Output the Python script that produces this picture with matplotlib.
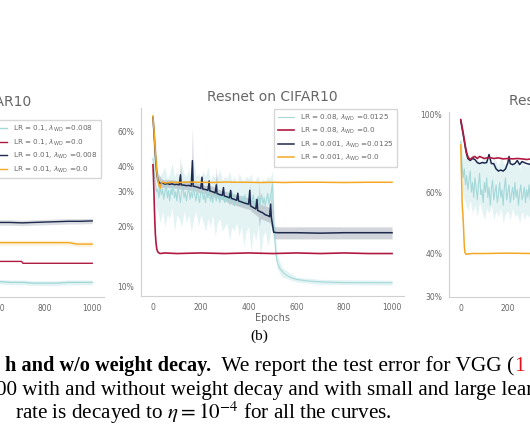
import numpy as np
import matplotlib.pyplot as plt
from matplotlib.ticker import FixedLocator, NullLocator

# ---- data (test error in %) ----
# left panel: VGG on CIFAR10 (only the tail is visible)
l_ep = [0, 20, 50, 100, 200, 300, 400, 500, 600, 650, 700, 706, 750, 800, 850, 900, 936, 950, 1000]
l_cyan = [40, 18, 14, 12.5, 11.5, 11.2, 11.0, 10.9, 10.8, 10.7, 10.7, 10.7, 10.6, 10.6, 10.6, 10.7, 10.7, 10.7, 10.7]
l_red = [38, 17, 15, 14.5, 14.2, 14.0, 13.9, 13.8, 13.7, 13.7, 13.7, 13.4, 13.4, 13.4, 13.4, 13.4, 13.4, 13.4, 13.4]
l_navy = [60, 30, 25, 23.5, 23.0, 22.5, 22.2, 21.9, 21.7, 21.7, 21.6, 21.6, 21.7, 21.8, 21.9, 22.0, 22.0, 22.0, 22.1]
l_orange = [55, 24, 20, 18.5, 17.8, 17.5, 17.3, 17.2, 17.1, 17.1, 17.1, 17.1, 17.1, 17.1, 17.1, 17.1, 16.8, 16.8, 16.8]
l_labels = [r"LR = 0.1, $\lambda_{\mathrm{WD}}$ =0.008", r"LR = 0.1, $\lambda_{\mathrm{WD}}$ =0.0",
            r"LR = 0.01, $\lambda_{\mathrm{WD}}$ =0.008", r"LR = 0.01, $\lambda_{\mathrm{WD}}$ =0.0"]

# middle panel: Resnet on CIFAR10
m_cyan_ep = list(range(0, 505, 5)) + [505, 510, 515, 520, 530, 545, 560, 580, 600, 650, 700, 800, 900, 1000]
m_cyan = [44, 38, 33, 30, 31, 28, 32, 29, 31, 27.5, 30, 33, 28, 30.5, 27, 31, 29, 33.5, 28, 30,
          27, 31.5, 29, 26.5, 30, 32, 28, 30, 27, 29.5, 31, 27.5, 30, 28, 32, 29, 27, 30.5, 28.5, 26.5,
          29.5, 31, 27.5, 29, 26.5, 30, 28, 31, 27, 29, 26.5, 30, 28.5, 27, 30.5, 28, 26.5, 29.5, 27.5, 30,
          26.5, 28.5, 27, 29.5, 26, 28, 30, 27, 25.5, 28.5, 27, 29, 26, 27.5, 25.5, 28.5, 26.5, 29, 25.5, 27.5,
          26, 28.5, 25, 27, 29, 25.5, 27.5, 26, 28.5, 25, 27, 29, 26, 28, 25.5, 27.5, 29.5, 26, 28, 30, 33,
          22, 17, 14.5, 13.3, 12.4, 11.8, 11.4, 11.1, 10.9, 10.7, 10.6, 10.5, 10.5, 10.5]
m_cyan_band_ep = [0, 10, 20, 30, 40, 50, 60, 70, 80, 90, 100, 110, 120, 130, 140, 150, 160, 170, 180, 190,
                  200, 210, 220, 230, 240, 250, 260, 270, 280, 290, 300, 310, 320, 330, 340, 350, 360, 370,
                  380, 390, 400, 410, 420, 430, 440, 450, 460, 470, 480, 490, 500, 505, 510, 520, 540, 600, 700, 1000]
m_cyan_lo = [38, 26, 24, 21, 24, 20, 23, 22, 25, 19, 23, 22, 20, 24, 21, 23, 19, 22, 24, 20,
             23, 21, 19, 22, 20, 23, 18, 21, 22, 19, 20, 21, 17, 20, 19, 21, 18, 20, 16, 19,
             20, 15, 19, 17, 20, 14, 18, 19, 16, 18, 24, 18, 14.5, 12.3, 11.2, 10.6, 10.3, 10.2]
m_cyan_hi = [52, 40, 38, 36, 38, 40, 35, 37, 42, 36, 38, 35, 41, 37, 36, 39, 35, 43, 36, 37,
             35, 38, 36, 40, 34, 37, 35, 36, 39, 34, 36, 35, 38, 34, 36, 33, 37, 35, 34, 36,
             35, 37, 33, 35, 36, 33, 35, 34, 36, 35, 38, 27, 20, 14.5, 12.5, 11.2, 10.9, 10.8]
m_red_ep = [0, 2, 4, 6, 8, 10, 13, 16, 20, 25, 30, 50, 100, 200, 300, 400, 500, 600, 700, 800, 900, 1000]
m_red = [41, 36, 30, 25, 21, 18.5, 16.5, 15.5, 15.0, 14.8, 14.7, 14.8, 14.7, 14.8, 14.7, 14.8, 14.7, 14.8,
         14.7, 14.8, 14.7, 14.7]
m_navy_ep = [0, 4, 8, 12, 16, 20, 25, 30, 40, 50, 60, 70, 80, 90, 100, 110, 115, 118, 130, 140, 150, 160,
             165, 168, 180, 190, 200, 205, 208, 220, 230, 235, 238, 250, 260, 265, 268, 280, 290, 295, 298,
             310, 320, 325, 328, 340, 350, 355, 358, 370, 380, 390, 400, 405, 408, 420, 430, 435, 438, 450,
             460, 470, 480, 488, 492, 495, 500, 505, 520, 600, 700, 800, 900, 1000]
m_navy = [71, 60, 50, 42, 37, 34.5, 33.5, 33.0, 33.2, 32.8, 33.0, 32.7, 32.9, 32.6, 32.7, 32.5, 36.5, 32.5,
          32.4, 32.2, 32.3, 32.0, 43.0, 32.0, 31.8, 31.5, 31.2, 35.5, 31.0, 30.8, 30.5, 34.0, 30.3, 30.0,
          29.6, 32.5, 29.4, 29.0, 28.8, 31.5, 28.6, 28.3, 28.0, 30.5, 27.8, 27.5, 27.2, 29.5, 27.0, 26.7,
          26.4, 26.2, 26.0, 30.5, 25.5, 25.0, 24.6, 27.5, 24.2, 23.8, 23.5, 23.0, 22.8, 22.5, 26.0, 22.4,
          20.5, 18.8, 18.7, 18.7, 18.6, 18.7, 18.7, 18.7]
m_navy_band_ep = [0, 20, 40, 80, 110, 115, 120, 160, 165, 170, 200, 205, 210, 250, 260, 265, 270, 330, 400,
                  405, 410, 440, 445, 450, 490, 495, 500, 505, 520, 1000]
m_navy_lo = [65, 32, 31.5, 31.5, 31, 31, 31, 30.5, 30.5, 30.5, 29.5, 29.5, 29.5, 28.5, 28, 28, 28, 26,
             24.5, 24.5, 24, 22.5, 20, 22, 21, 20, 19, 17.5, 17.4, 17.4]
m_navy_hi = [77, 37, 34.5, 34.5, 34, 45, 34, 34, 63, 33.5, 33, 37, 32.5, 32, 31.5, 40, 31, 29.5, 28,
             33, 27.5, 26.5, 33, 26, 25, 30, 24, 20.2, 20.0, 20.0]
m_orange_ep = [0, 4, 8, 12, 16, 20, 25, 30, 35, 40, 50, 75, 100, 150, 200, 250, 300, 350, 400, 450, 500,
               550, 600, 700, 800, 900, 1000]
m_orange = [72, 62, 52, 44, 38, 34.5, 32.5, 31.2, 33.0, 33.6, 33.2, 33.5, 33.4, 33.6, 33.5, 33.4, 33.6,
            33.5, 33.5, 33.4, 33.5, 33.4, 33.5, 33.5, 33.4, 33.5, 33.5]
m_labels = [r"LR = 0.08, $\lambda_{\mathrm{WD}}$ =0.0125", r"LR = 0.08, $\lambda_{\mathrm{WD}}$ =0.0",
            r"LR = 0.001, $\lambda_{\mathrm{WD}}$ =0.0125", r"LR = 0.001, $\lambda_{\mathrm{WD}}$ =0.0"]

# right panel: Resnet on CIFAR100 (only the start is visible)
r_cyan_ep = list(range(0, 305, 5)) + [400, 500, 600, 800, 1000]
r_cyan = [84, 72, 66, 70, 63, 67, 61, 65, 69, 60, 64, 58, 66, 62, 57, 63, 68, 59, 61, 56,
          64, 60, 66, 58, 62, 55, 61, 65, 57, 60, 63, 56, 59, 64, 58, 61, 55, 62, 66, 57,
          60, 63, 56, 59, 62, 57, 64, 58, 61, 55, 60, 63, 57, 59, 62, 56, 61, 58, 63, 57, 59,
          60, 59, 58, 57, 56]
r_cyan_band_ep = [0, 10, 20, 30, 40, 50, 60, 70, 80, 90, 100, 110, 120, 130, 140, 150, 160, 170, 180, 190,
                  200, 210, 220, 230, 240, 250, 260, 270, 280, 290, 300, 1000]
r_cyan_lo = [78, 58, 56, 53, 57, 52, 55, 51, 56, 53, 50, 54, 52, 55, 50, 53, 51, 54, 49, 52,
             53, 50, 54, 51, 52, 49, 53, 50, 52, 51, 50, 50]
r_cyan_hi = [88, 76, 75, 77, 74, 78, 73, 76, 72, 75, 77, 73, 76, 72, 75, 74, 71, 76, 73, 72,
             75, 71, 74, 72, 73, 70, 74, 72, 71, 73, 70, 68]
r_red_ep = [0, 5, 10, 15, 20, 25, 30, 35, 40, 50, 60, 70, 80, 90, 100, 120, 140, 160, 180, 200, 220,
            240, 260, 280, 300, 400, 500, 600, 800, 1000]
r_red = [97, 93, 89, 85, 81, 78, 76, 75, 74.5, 75.5, 76, 75, 76, 75.5, 75, 75.5, 75, 75.3, 74.8, 75,
         74.8, 75, 74.8, 74.5, 74.8, 74.5, 74.5, 74.4, 74.3, 74.3]
r_navy_ep = [0, 5, 10, 15, 20, 25, 30, 40, 50, 60, 70, 80, 90, 100, 110, 120, 130, 140, 150, 160, 170,
             180, 190, 200, 205, 210, 220, 230, 240, 250, 260, 280, 300, 400, 500, 600, 800, 1000]
r_navy = [96, 92, 88, 84, 80, 77, 75, 74, 75, 74.5, 73, 72.5, 73, 72.8, 73, 77, 72.5, 72.5, 70, 69,
          69.5, 69, 70, 73, 76, 72.5, 72, 72.5, 74, 72, 73.5, 72.5, 72, 71.5, 71, 71, 70.5, 70.5]
r_orange_ep = [0, 3, 6, 9, 12, 15, 18, 22, 30, 50, 100, 200, 300, 500, 700, 1000]
r_orange = [82, 68, 55, 52, 47, 42, 40.2, 39.8, 39.9, 40, 40, 40.1, 40, 40, 40, 40]

C_CYAN = '#a5d8d9'
C_RED = '#b01a40'
C_NAVY = '#1d2a4e'
C_ORANGE = '#f4a824'
GREY = '#666666'

fig = plt.figure(figsize=(5.3, 4.43), dpi=100)
W, H = 530, 443


def px_axes(left, top, width, height):
    return fig.add_axes([left / W, (H - top - height) / H, width / W, height / H])


def style(ax, ylim, yticks, xlabel=None):
    ax.set_yscale('log')
    ax.set_xlim(-50, 1050)
    ax.set_ylim(*ylim)
    ax.yaxis.set_major_locator(FixedLocator(yticks))
    ax.yaxis.set_minor_locator(NullLocator())
    ax.set_yticklabels([f"{t}%" for t in yticks])
    ax.set_xticks([0, 200, 400, 600, 800, 1000])
    ax.tick_params(length=0, labelsize=5.5, labelcolor=GREY, pad=5)
    for s in ['top', 'right']:
        ax.spines[s].set_visible(False)
    for s in ['left', 'bottom']:
        ax.spines[s].set_color('#d0d0d0')
        ax.spines[s].set_linewidth(0.8)
    if xlabel:
        ax.set_xlabel(xlabel, fontsize=7, color=GREY, labelpad=1)


def legend(ax, handles, labels, anchor):
    leg = ax.legend(handles, labels, loc='upper right', bbox_to_anchor=anchor, fontsize=5.2,
                    frameon=True, fancybox=False, edgecolor='#cccccc', labelspacing=0.45,
                    handlelength=2.2, borderpad=0.5, borderaxespad=0)
    for t in leg.get_texts():
        t.set_color(GREY)


# left panel
ax_l = px_axes(-155, 113, 259, 184)
ax_l.fill_between(l_ep, np.array(l_navy) - 0.7, np.array(l_navy) + 0.7, color='#b8bcc6', alpha=0.5, lw=0)
ax_l.fill_between(l_ep, np.array(l_orange) - 0.5, np.array(l_orange) + 0.5, color=C_ORANGE, alpha=0.15, lw=0)
ax_l.fill_between(l_ep, np.array(l_cyan) - 0.3, np.array(l_cyan) + 0.3, color=C_CYAN, alpha=0.3, lw=0)
h1, = ax_l.plot(l_ep, l_cyan, color=C_CYAN, lw=1)
h2, = ax_l.plot(l_ep, l_red, color=C_RED, lw=1)
h3, = ax_l.plot(l_ep, l_navy, color=C_NAVY, lw=1)
h4, = ax_l.plot(l_ep, l_orange, color=C_ORANGE, lw=1)
style(ax_l, (9.0, 79), [10, 20, 30, 40, 60])
ax_l.tick_params(axis='y', labelleft=False)
ax_l.set_title("VGG on CIFAR10", fontsize=10, color=GREY, pad=5)
legend(ax_l, [h1, h2, h3, h4], l_labels, (0.988, 0.96))

# middle panel
ax_m = px_axes(141, 108, 263, 188)
ax_m.fill_between(m_cyan_band_ep, m_cyan_lo, m_cyan_hi, color=C_CYAN, alpha=0.3, lw=0)
ax_m.fill_between(m_navy_band_ep, m_navy_lo, m_navy_hi, color='#9aa0ae', alpha=0.45, lw=0)
h1, = ax_m.plot(m_cyan_ep, m_cyan, color=C_CYAN, lw=0.8)
h2, = ax_m.plot(m_red_ep, m_red, color=C_RED, lw=1.2)
h3, = ax_m.plot(m_navy_ep, m_navy, color=C_NAVY, lw=1.1)
h4, = ax_m.plot(m_orange_ep, m_orange, color=C_ORANGE, lw=1.1)
style(ax_m, (9.0, 79), [10, 20, 30, 40, 60], xlabel="Epochs")
ax_m.set_title("Resnet on CIFAR10", fontsize=10, color=GREY, pad=5)
legend(ax_m, [h1, h2, h3, h4], m_labels, (0.973, 0.995))

# right panel
ax_r = px_axes(449, 112, 259, 185)
ax_r.fill_between(r_cyan_band_ep, r_cyan_lo, r_cyan_hi, color=C_CYAN, alpha=0.3, lw=0)
ax_r.plot(r_cyan_ep, r_cyan, color=C_CYAN, lw=0.8)
ax_r.plot(r_navy_ep, r_navy, color=C_NAVY, lw=1.1)
ax_r.plot(r_red_ep, r_red, color=C_RED, lw=1.2)
ax_r.plot(r_orange_ep, r_orange, color=C_ORANGE, lw=1.1)
style(ax_r, (30, 102), [30, 40, 60, 100])
ax_r.set_title("Resnet on CIFAR100", fontsize=10, color=GREY, pad=5)

# caption
serif = 'Liberation Serif'
cap = 15.2
fig.text(259.5 / W, 1 - 340 / H, "(b)", family=serif, fontsize=11, ha='center', va='baseline')
t1 = fig.text(5 / W, 1 - 371 / H, "h and w/o weight decay.", family=serif, fontsize=14.6,
              weight='bold', va='baseline')
t2 = ax_m.annotate("  We report the test error for VGG (", xy=(1, 0), xycoords=t1, va='bottom',
                   family=serif, fontsize=15.4, annotation_clip=False)
ax_m.annotate("1", xy=(1, 0), xycoords=t2, va='bottom', family=serif, fontsize=15.4,
              color='#e8101a', annotation_clip=False)
fig.text(-4 / W, 1 - 395 / H, "00 with and without weight decay and with small and large learning",
         family=serif, fontsize=cap, va='baseline')
fig.text(15 / W, 1 - 419 / H, r"rate is decayed to $\eta = 10^{-4}$ for all the curves.",
         family=serif, fontsize=cap, va='baseline', math_fontfamily='stix')

fig.savefig("out.png", dpi=100)
